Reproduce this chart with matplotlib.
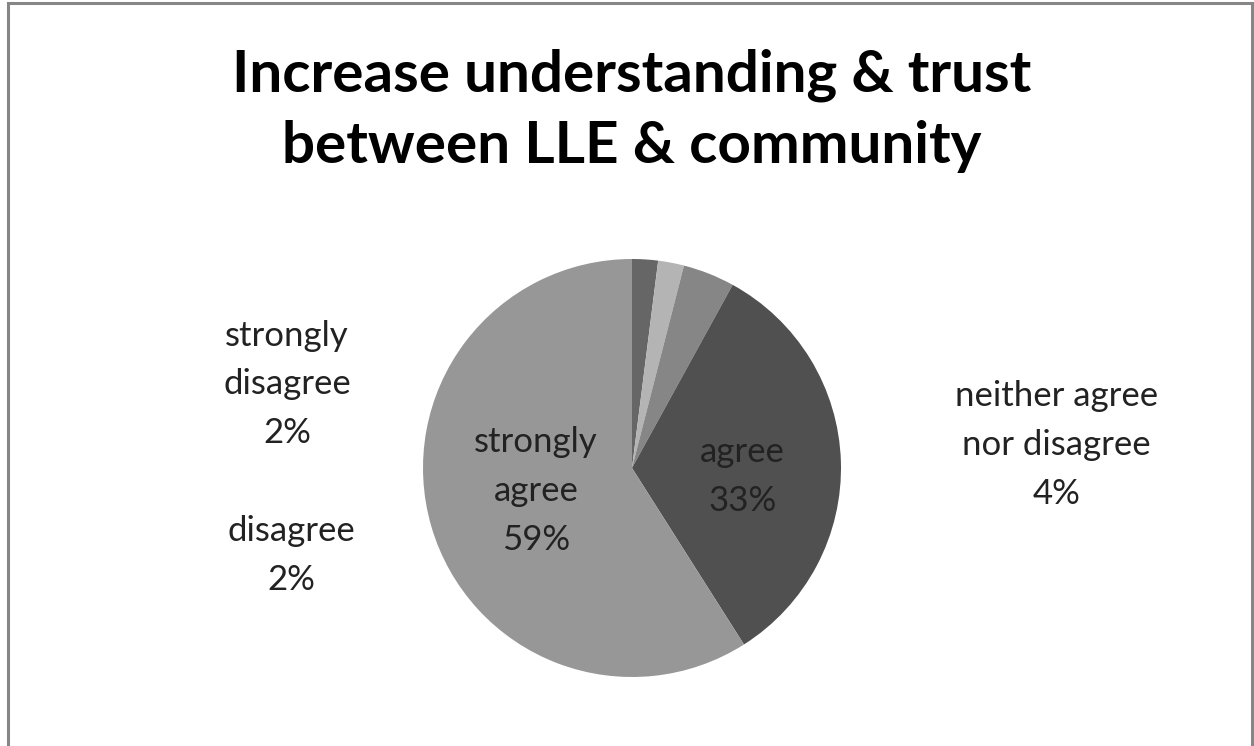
import matplotlib
matplotlib.use('Agg')
import matplotlib.pyplot as plt
from matplotlib.patches import Rectangle

# survey responses, clockwise from 12 o'clock
categories = ['strongly\ndisagree', 'disagree', 'neither agree\nnor disagree', 'agree', 'strongly\nagree']
shares = [2, 2, 4, 33, 59]
colors = ['#666666', '#b4b4b4', '#868686', '#505050', '#979797']

# label anchor points in pie units (radius = 1)
label_pos = [(-1.65, 0.40), (-1.63, -0.42), (2.03, 0.11), (0.53, -0.04), (-0.46, -0.11)]

W, H, DPI = 1254, 746, 100
CX, CY, R = 632, 468, 209

fig = plt.figure(figsize=(W / DPI, H / DPI), dpi=DPI)
fig.patches.append(Rectangle((8 / W, -0.05), (1252 - 8) / W, 1.05 - 3 / H,
                             transform=fig.transFigure, fill=False,
                             edgecolor='#868686', linewidth=2.2))

ax = fig.add_axes([(CX - R) / W, (H - CY - R) / H, 2 * R / W, 2 * R / H])
ax.pie(shares, colors=colors, startangle=90, counterclock=False,
       wedgeprops=dict(linewidth=0))
ax.set_xlim(-1, 1)
ax.set_ylim(-1, 1)
ax.set_aspect('equal')
ax.axis('off')

for name, val, (x, y) in zip(categories, shares, label_pos):
    ax.text(x, y, f'{name}\n{val}%', ha='center', va='center', fontsize=25,
            family='Lato', color='#222222', linespacing=1.65, clip_on=False)

fig.text(CX / W, 1 - 111 / H, 'Increase understanding & trust\nbetween LLE & community',
         ha='center', va='center', fontsize=42, fontweight='bold', family='Lato',
         linespacing=1.42)

fig.savefig('out.png', dpi=DPI)
